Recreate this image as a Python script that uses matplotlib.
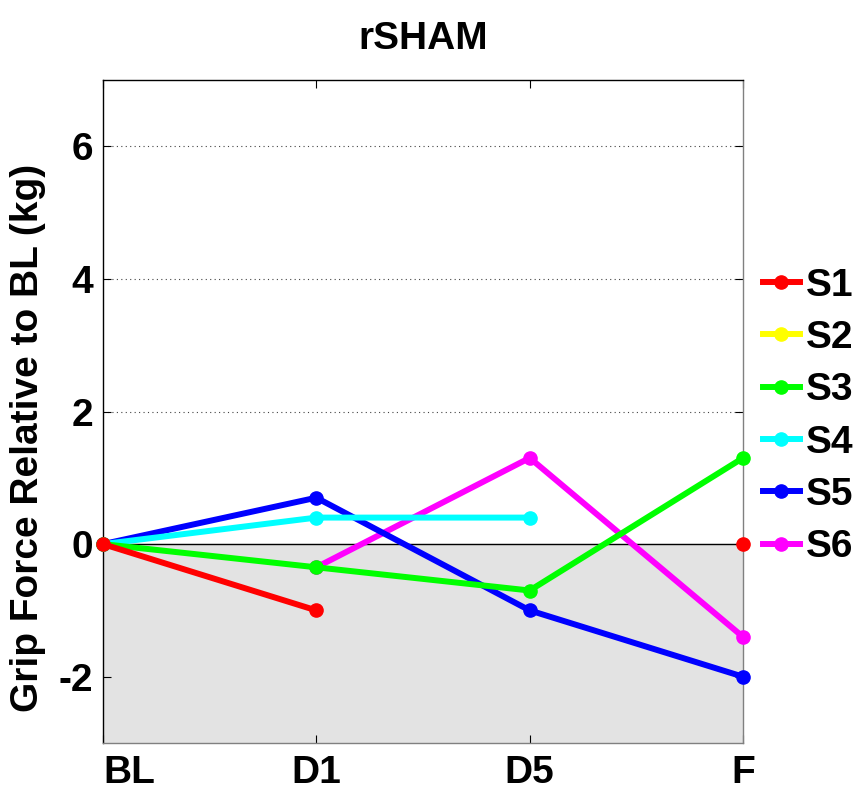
import numpy as np
import matplotlib.pyplot as plt

plt.rcParams['font.family'] = ['Liberation Sans', 'DejaVu Sans']
plt.rcParams['font.weight'] = 'bold'

sessions = ["BL", "D1", "D5", "F"]
subjects = ["S1", "S2", "S3", "S4", "S5", "S6"]
colors = ["#ff0000", "#ffff00", "#00ff00", "#00ffff", "#0000ff", "#ff00ff"]

# grip force change per subject, nan = no session
s1 = [0.0, -1.0, np.nan, 0.0]
s2 = [np.nan, np.nan, np.nan, np.nan]
s3 = [0.0, -0.35, -0.7, 1.3]
s4 = [0.0, 0.4, 0.4, np.nan]
s5 = [0.0, 0.7, -1.0, -2.0]
s6 = [np.nan, -0.35, 1.3, -1.4]
values = [s1, s2, s3, s4, s5, s6]

x = np.arange(1, len(sessions) + 1)
fs = 28

fig = plt.figure(figsize=(8.61, 7.9), dpi=100)
ax = fig.add_axes([0.1196, 0.0595, 0.7434, 0.8392])

ax.set_xlim(1, 4)
ax.set_ylim(-3, 7)

# shaded region below zero
ax.axhspan(-3, 0, color="#e3e3e3", zorder=0)
ax.axhline(0, color="black", lw=1, zorder=1)
for g in [2, 4, 6]:
    ax.axhline(g, color="#444444", lw=0.8, ls=(0, (1, 3)), zorder=1)

for i, (name, c, v) in enumerate(zip(subjects, colors, values)):
    ax.plot(x, v, color=c, lw=4.3, marker="o", ms=9.5, label=name,
            zorder=10 - i, clip_on=False)

ax.set_xticks(x)
ax.set_xticklabels(sessions, fontsize=fs, fontweight="bold")
ax.get_xticklabels()[0].set_horizontalalignment("left")
ax.set_yticks([-2, 0, 2, 4, 6])
ax.set_yticklabels(["-2", "0", "2", "4", "6"], fontsize=fs, fontweight="bold")
ax.tick_params(direction="in", length=6, top=True, right=True)
ax.tick_params(axis="x", pad=9)
ax.tick_params(axis="y", pad=7)

for s in ax.spines.values():
    s.set_linewidth(1)
ax.spines["right"].set_color("#808080")
ax.spines["bottom"].set_color("#808080")

ax.set_ylabel("Grip Force Relative to BL (kg)", fontsize=fs, fontweight="bold")
ax.yaxis.set_label_coords(-0.089, 0.46)
ax.set_title("rSHAM", fontsize=fs, fontweight="bold", pad=22)

leg = fig.legend(loc="center left", bbox_to_anchor=(763 / 861, 0.4728),
                 frameon=False, fontsize=fs, handlelength=0.95,
                 handletextpad=0.15, labelspacing=0.42, borderpad=0,
                 borderaxespad=0)
for t in leg.get_texts():
    t.set_fontweight("bold")

fig.savefig("out.png", dpi=100)
